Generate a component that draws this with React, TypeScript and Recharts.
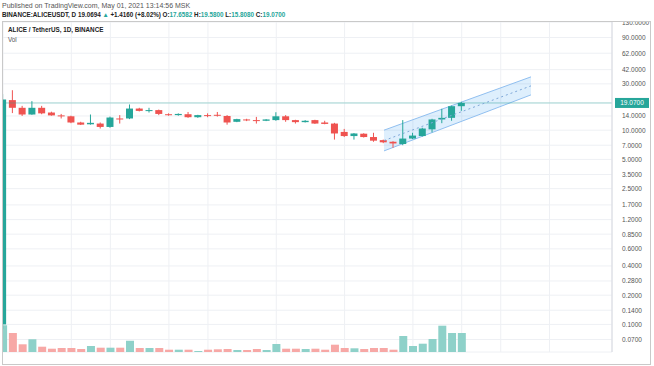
import React from 'react';
import {
  ComposedChart,
  Bar,
  Area,
  Line,
  XAxis,
  YAxis,
  CartesianGrid,
  ReferenceLine,
  Cell,
} from 'recharts';

// daily candles, Mar 15 .. May 1 2021
const opens = [0.1, 20.4, 17.0, 14.5, 17.0, 15.2, 14.2, 13.9, 12.0, 11.5, 11.7, 10.8, 13.2, 13.2, 16.7, 15.8, 16.1, 14.6, 14.3, 14.6, 13.6, 14.3, 14.4, 14.0, 12.2, 12.9, 12.7, 12.5, 12.7, 13.9, 12.7, 12.1, 12.7, 12.0, 11.7, 9.6, 8.7, 9.2, 8.5, 7.9, 7.6, 7.2, 8.2, 8.7, 10.2, 12.9, 13.4, 17.6582];
const highs = [23.5, 25.8, 17.8, 19.9, 17.8, 15.5, 14.7, 14.1, 12.2, 14.5, 12.0, 13.8, 14.3, 18.4, 17.0, 17.0, 16.3, 14.9, 14.9, 15.4, 14.4, 14.9, 15.4, 14.3, 13.1, 13.1, 13.7, 13.0, 15.3, 14.3, 12.8, 12.7, 12.8, 12.5, 11.9, 10.3, 9.35, 9.3, 9.4, 8.0, 7.7, 12.7, 9.4, 10.6, 13.1, 16.6, 17.9, 19.58];
const lows = [0.09, 15.0, 14.0, 14.4, 14.6, 14.1, 13.2, 11.8, 11.3, 11.4, 10.4, 10.6, 11.7, 13.0, 15.6, 15.2, 14.3, 14.1, 14.1, 13.4, 13.4, 13.6, 13.8, 11.4, 12.1, 12.4, 11.7, 12.4, 12.5, 12.2, 11.7, 12.0, 11.6, 11.5, 8.0, 8.5, 8.0, 8.4, 7.6, 7.35, 6.6, 7.0, 8.1, 8.6, 9.5, 11.8, 12.5, 15.808];
const closes = [20.7, 17.0, 14.5, 17.0, 14.9, 14.2, 13.9, 12.0, 11.4, 11.9, 10.8, 13.5, 13.0, 16.7, 15.8, 16.1, 14.7, 14.3, 14.7, 13.6, 14.3, 14.0, 14.2, 12.0, 13.0, 12.6, 12.5, 12.9, 13.9, 12.7, 12.1, 12.5, 11.7, 11.6, 9.25, 8.7, 9.25, 8.5, 7.8, 7.5, 7.3, 8.2, 8.8, 10.4, 12.9, 13.4, 17.66, 19.07];
const volumes = [26.7, 19, 7.7, 12.7, 5.3, 3.3, 4, 4, 3, 6, 4.3, 4.3, 4.3, 11.3, 4, 4, 4, 2.3, 2.3, 2.3, 1, 2.3, 2.7, 3, 2, 2, 3, 2, 8, 3.3, 3.3, 3, 3.3, 2.3, 7.3, 4, 3.7, 3, 4, 4, 2.3, 16, 6, 8.3, 13, 26.3, 19, 19];

// time axis labels (bar index -> text)
const dateTicks = [0, 7, 11, 17, 21, 28, 35, 42, 47, 51, 56];
const dateLabels = ['14', '22', '26', 'Apr', '5', '12', '19', '26', 'May', '5', '10'];

const priceTicks = [130, 90, 62, 42, 30, 19.07, 14, 10, 7, 5, 3.5, 2.5, 1.7, 1.2, 0.85, 0.6, 0.4, 0.28, 0.2, 0.14, 0.1, 0.07];
const lastPrice = 19.07;

// parallel channel drawing
const channelX = [39.04, 54.1];
const channelLow = [6.12, 23.1];
const channelHigh = [10.0, 35.4];
const channelMid = [7.82, 28.6];

const UP = '#26a69a';
const DOWN = '#ef5350';
const VOL_UP = '#8ed1c9';
const VOL_DOWN = '#f7a8a6';
const FONT = '"Liberation Sans", Arial, sans-serif';
const X_DOMAIN: [number, number] = [0, 62.4];

const data = opens.map((o, i) => ({
  i,
  o,
  h: highs[i],
  l: lows[i],
  c: closes[i],
  v: volumes[i],
  up: closes[i] >= o,
}));

const channel = channelX.map((x, k) => ({
  i: x,
  band: [channelLow[k], channelHigh[k]],
  mid: channelMid[k],
}));

function Candle(props: any) {
  const { x, y, width, height, payload } = props;
  if (!payload) return null;
  const { o, h, l, c, up } = payload;
  const color = up ? UP : DOWN;
  const top = Math.min(y, y + height);
  const hgt = Math.abs(height);
  const span = Math.log(h) - Math.log(l);
  const py = (p: number) => (span > 0 ? top + ((Math.log(h) - Math.log(p)) / span) * hgt : top);
  const bTop = py(Math.max(o, c));
  const bBot = py(Math.min(o, c));
  const cx = x + width / 2;
  return (
    <g>
      <line x1={cx} x2={cx} y1={top} y2={top + hgt} stroke={color} strokeWidth={1} />
      <rect x={x} y={bTop} width={width} height={Math.max(1, bBot - bTop)} fill={color} />
    </g>
  );
}

function DateTick({ x, y, payload, index }: any) {
  const k = dateTicks.indexOf(payload.value);
  return (
    <text
      x={index === 0 ? x + 3 : x}
      y={y + 7}
      textAnchor={index === 0 ? 'start' : 'middle'}
      fontSize={6.5}
      fill="#555"
      fontFamily={FONT}
    >
      {k >= 0 ? dateLabels[k] : ''}
    </text>
  );
}

function PriceTick({ x, y, payload }: any) {
  const v = payload.value;
  if (v === lastPrice) {
    return (
      <g>
        <rect x={x + 3} y={y - 5} width={34} height={10} fill={UP} />
        <text x={x + 20} y={y + 2.5} textAnchor="middle" fontSize={6.5} fill="#fff" fontFamily={FONT}>
          {v.toFixed(4)}
        </text>
      </g>
    );
  }
  return (
    <text x={x + 10} y={y + 2.5} textAnchor="start" fontSize={6.5} fill="#555" fontFamily={FONT}>
      {v.toFixed(4)}
    </text>
  );
}

export default function App() {
  return (
    <div
      style={{
        position: 'absolute',
        left: 0,
        top: 0,
        width: 654,
        height: 366,
        background: '#fff',
        fontFamily: FONT,
        overflow: 'hidden',
      }}
    >
      <div style={{ position: 'absolute', left: 2, top: 2, fontSize: 7, color: '#555', whiteSpace: 'nowrap' }}>
        Published on TradingView.com, May 01, 2021 13:14:56 MSK
      </div>
      <div style={{ position: 'absolute', left: 2, top: 11, fontSize: 6.3, fontWeight: 'bold', color: '#222', whiteSpace: 'nowrap' }}>
        BINANCE:ALICEUSDT, D 19.0694 <span style={{ color: UP }}>▲</span> +1.4160 (+8.02%) O:
        <span style={{ color: UP }}>17.6582</span> H:<span style={{ color: UP }}>19.5800</span> L:
        <span style={{ color: UP }}>15.8080</span> C:<span style={{ color: UP }}>19.0700</span>
      </div>
      <div
        style={{
          position: 'absolute',
          left: 2,
          top: 21,
          width: 649,
          height: 344,
          border: '1px solid #c9c9c9',
          boxSizing: 'border-box',
        }}
      />
      <div style={{ position: 'absolute', left: 3, top: 22 }}>
        <ComposedChart width={648} height={344} data={data} margin={{ top: 0, right: 0, bottom: 0, left: 0 }}>
          <CartesianGrid xAxisId="main" yAxisId="price" stroke="#eef0f4" />
          <XAxis
            xAxisId="main"
            dataKey="i"
            type="number"
            domain={X_DOMAIN}
            allowDataOverflow
            ticks={dateTicks}
            interval={0}
            height={14}
            tickLine={false}
            tickSize={0}
            tickMargin={0}
            axisLine={{ stroke: '#d6d9e0' }}
            tick={<DateTick />}
          />
          <XAxis xAxisId="vol" dataKey="i" type="number" domain={X_DOMAIN} allowDataOverflow hide />
          <XAxis xAxisId="chan" dataKey="i" type="number" domain={X_DOMAIN} allowDataOverflow hide />
          <YAxis
            yAxisId="price"
            orientation="right"
            type="number"
            scale="log"
            domain={[0.052, 130]}
            allowDataOverflow
            ticks={priceTicks}
            interval={0}
            width={39}
            tickLine={false}
            tickSize={0}
            tickMargin={0}
            axisLine={{ stroke: '#d6d9e0' }}
            tick={<PriceTick />}
          />
          <YAxis yAxisId="vol" type="number" domain={[0, 330]} allowDataOverflow hide />
          <Bar xAxisId="vol" yAxisId="vol" dataKey="v" barSize={8} isAnimationActive={false}>
            {data.map((d) => (
              <Cell key={d.i} fill={d.up ? VOL_UP : VOL_DOWN} />
            ))}
          </Bar>
          <ReferenceLine xAxisId="main" yAxisId="price" y={lastPrice} stroke={UP} strokeOpacity={0.4} />
          <Area
            xAxisId="chan"
            yAxisId="price"
            data={channel}
            dataKey="band"
            type="linear"
            stroke="#90bff0"
            strokeWidth={1}
            fill="#2196f3"
            fillOpacity={0.15}
            dot={false}
            activeDot={false}
            isAnimationActive={false}
          />
          <Line
            xAxisId="chan"
            yAxisId="price"
            data={channel}
            dataKey="mid"
            type="linear"
            stroke="#7fa8d8"
            strokeWidth={1}
            strokeDasharray="2 3"
            dot={false}
            activeDot={false}
            isAnimationActive={false}
          />
          <Bar
            xAxisId="main"
            yAxisId="price"
            dataKey={(d: any) => [d.l, d.h]}
            barSize={7}
            shape={<Candle />}
            isAnimationActive={false}
          />
        </ComposedChart>
      </div>
      <div style={{ position: 'absolute', left: 8, top: 26, fontSize: 6.3, fontWeight: 'bold', color: '#222', whiteSpace: 'nowrap' }}>
        ALICE / TetherUS, 1D, BINANCE
      </div>
      <div style={{ position: 'absolute', left: 8, top: 36, fontSize: 6.3, color: '#555' }}>Vol</div>
    </div>
  );
}
